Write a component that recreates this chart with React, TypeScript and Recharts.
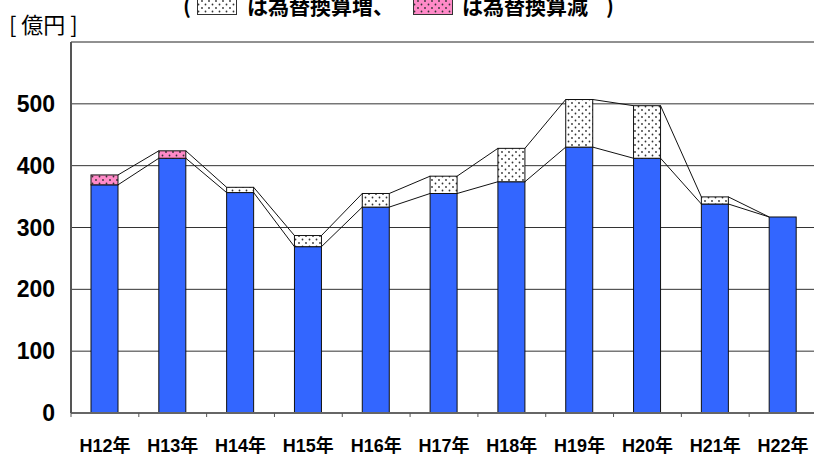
import React from "react";
import { ComposedChart, Bar, XAxis, YAxis, CartesianGrid, ReferenceLine } from "recharts";

const years = ["H12年", "H13年", "H14年", "H15年", "H16年", "H17年", "H18年", "H19年", "H20年", "H21年", "H22年"];
// blue part (億円)
const baseValues = [369, 412, 356.5, 269, 333, 355, 374, 430, 412, 338, 317];
// exchange-rate part stacked on top
const fxValues = [16, 12, 8.5, 18, 22, 28, 54, 77, 85, 11.5, 0];
// true = 為替換算減 (pink), false = 為替換算増 (white dots)
const fxDecrease = [true, true, false, false, false, false, false, false, false, false, false];
const yTicks = [0, 100, 200, 300, 400, 500];

const CHART_W = 820;
const CHART_H = 458;
const MARGIN = { top: 42, right: 3, bottom: 0, left: 0 };
const Y_AXIS_W = 71;
const X_AXIS_H = 45;
const STEP = (CHART_W - MARGIN.left - MARGIN.right - Y_AXIS_W) / years.length;

const BLUE = "#3366ff";
const PINK = "#ff8ac8";
const LABEL_FONT = "'Liberation Sans', Arial, 'Noto Sans CJK JP', sans-serif";

const data = years.map((year, i) => ({
  year,
  base: baseValues[i],
  fx: fxValues[i],
}));

function DotPattern({ id, bg }: { id: string; bg: string }) {
  return (
    <pattern id={id} width={7} height={7} patternUnits="userSpaceOnUse">
      <rect width={7} height={7} fill={bg} />
      <circle cx={1.5} cy={1.5} r={0.9} fill="#333" />
      <circle cx={5} cy={5} r={0.9} fill="#333" />
    </pattern>
  );
}

// blue bar + the series lines running to the next bar
const BaseShape = (props: any) => {
  const { x, y, width, height } = props;
  const index = props.index ?? years.indexOf(props.payload?.year);
  const k = height / baseValues[index];
  const zeroY = y + height;
  const next = index + 1;
  return (
    <g>
      <rect x={x} y={y} width={width} height={height} fill={BLUE} stroke="#111" strokeWidth={1} />
      {next < years.length && (
        <>
          <line
            x1={x + width}
            y1={y}
            x2={x + STEP}
            y2={zeroY - baseValues[next] * k}
            stroke="#111"
            strokeWidth={1}
          />
          <line
            x1={x + width}
            y1={zeroY - (baseValues[index] + fxValues[index]) * k}
            x2={x + STEP}
            y2={zeroY - (baseValues[next] + fxValues[next]) * k}
            stroke="#111"
            strokeWidth={1}
          />
        </>
      )}
    </g>
  );
};

const FxShape = (props: any) => {
  const { x, y, width, height } = props;
  const index = props.index ?? years.indexOf(props.payload?.year);
  if (!height || height <= 0) return null;
  return (
    <rect
      x={x}
      y={y}
      width={width}
      height={height}
      fill={fxDecrease[index] ? "url(#pinkDots)" : "url(#whiteDots)"}
      stroke="#111"
      strokeWidth={1}
    />
  );
};

const XTick = (props: any) => {
  const { x, y, payload } = props;
  return (
    <g>
      <line x1={x - STEP / 2} y1={y} x2={x - STEP / 2} y2={y + 4} stroke="#555" />
      <text
        x={x}
        y={y + 33}
        textAnchor="middle"
        dominantBaseline="central"
        fontSize={18}
        fontWeight="bold"
        fontFamily={LABEL_FONT}
        fill="#000"
      >
        {payload.value}
      </text>
    </g>
  );
};

function LegendBox({ id, bg }: { id: string; bg: string }) {
  return (
    <svg width={40} height={19} style={{ display: "block" }}>
      <defs>
        <DotPattern id={id} bg={bg} />
      </defs>
      <rect x={0.5} y={0.5} width={39} height={18} fill={`url(#${id})`} stroke="#333" />
    </svg>
  );
}

export default function App() {
  const titleStyle: React.CSSProperties = {
    position: "absolute",
    top: -5,
    fontFamily: "'Noto Sans CJK JP', sans-serif",
    fontWeight: "bold",
    fontSize: 21,
    lineHeight: "21px",
    whiteSpace: "nowrap",
  };
  return (
    <div
      style={{
        position: "absolute",
        left: 0,
        top: 0,
        width: 814,
        height: 458,
        overflow: "hidden",
        background: "#fff",
      }}
    >
      <div style={{ ...titleStyle, left: 183 }}>(</div>
      <div style={{ position: "absolute", left: 197, top: -4 }}>
        <LegendBox id="lgWhite" bg="#fff" />
      </div>
      <div style={{ ...titleStyle, left: 247 }}>は為替換算増、</div>
      <div style={{ position: "absolute", left: 413, top: -4 }}>
        <LegendBox id="lgPink" bg={PINK} />
      </div>
      <div style={{ ...titleStyle, left: 462 }}>は為替換算減</div>
      <div style={{ ...titleStyle, left: 606 }}>)</div>

      <div
        style={{
          position: "absolute",
          left: 9,
          top: 8,
          fontFamily: "'Noto Sans CJK JP', sans-serif",
          fontSize: 22,
          lineHeight: "30px",
          whiteSpace: "pre",
        }}
      >
        [ 億円 ]
      </div>

      <div style={{ position: "absolute", left: 0, top: 0 }}>
        <ComposedChart width={CHART_W} height={CHART_H} data={data} margin={MARGIN} barSize={27}>
          <defs>
            <DotPattern id="whiteDots" bg="#fff" />
            <DotPattern id="pinkDots" bg={PINK} />
          </defs>
          <CartesianGrid vertical={false} stroke="#333" />
          <ReferenceLine y={600} stroke="#888" strokeWidth={1} />
          <XAxis
            dataKey="year"
            height={X_AXIS_H}
            interval={0}
            tickLine={false}
            tickSize={0}
            tickMargin={0}
            tick={<XTick />}
            axisLine={{ stroke: "#666", strokeWidth: 2 }}
          />
          <YAxis
            width={Y_AXIS_W}
            domain={[0, 600]}
            ticks={yTicks}
            tickLine={false}
            tickSize={0}
            tickMargin={16}
            axisLine={{ stroke: "#555", strokeWidth: 2 }}
            tick={{ fill: "#000", fontSize: 23, fontWeight: "bold", fontFamily: LABEL_FONT }}
          />
          <Bar dataKey="base" stackId="a" shape={<BaseShape />} isAnimationActive={false} />
          <Bar dataKey="fx" stackId="a" shape={<FxShape />} isAnimationActive={false} />
        </ComposedChart>
      </div>
    </div>
  );
}
